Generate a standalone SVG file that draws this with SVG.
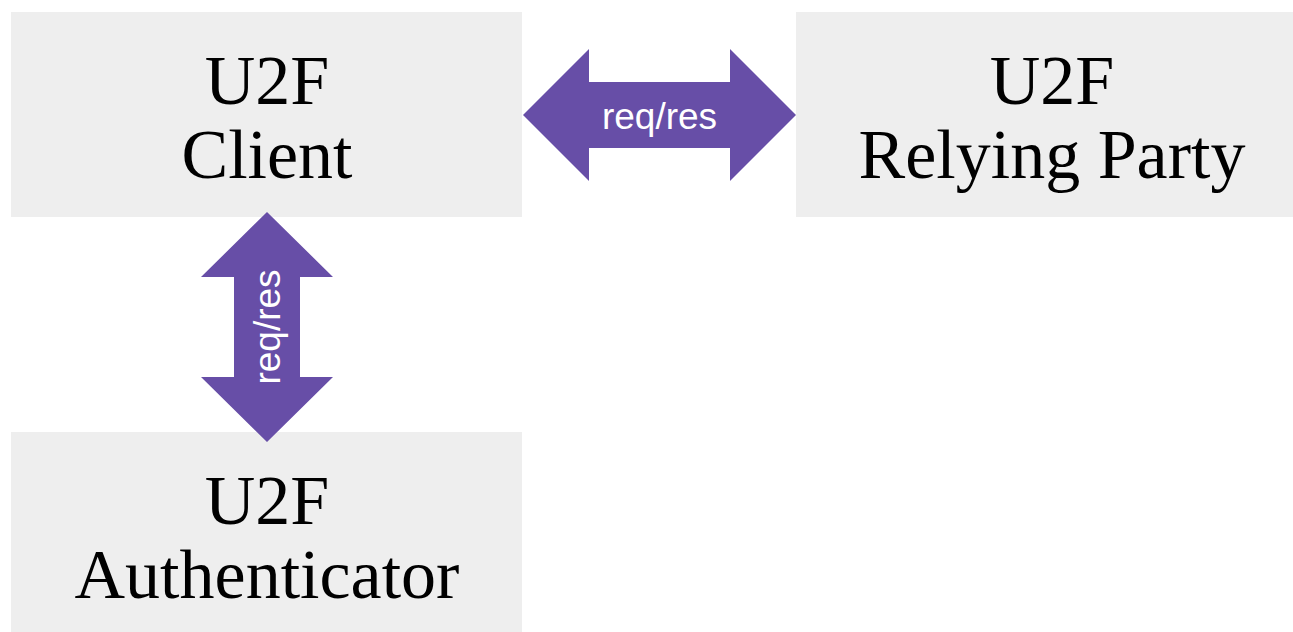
<svg xmlns="http://www.w3.org/2000/svg" width="1293" height="632" viewBox="0 0 1293 632">
  <style>
    .box { fill: #eeeeee; }
    .title { font-family: "Liberation Serif", "Times New Roman", serif; font-size: 70px; fill: #000000; text-anchor: middle; }
    .arrow { fill: #674ea7; }
    .label { font-family: "Liberation Sans", Arial, sans-serif; font-size: 37px; fill: #ffffff; text-anchor: middle; }
  </style>
  <rect width="1293" height="632" fill="#ffffff"/>

  <g id="client">
    <rect class="box" x="11" y="12" width="511" height="205"/>
    <text class="title" x="267" y="104">U2F</text>
    <text class="title" x="267" y="178">Client</text>
  </g>

  <g id="relying-party">
    <rect class="box" x="796" y="12" width="497" height="205"/>
    <text class="title" x="1052" y="104">U2F</text>
    <text class="title" x="1052" y="178">Relying Party</text>
  </g>

  <g id="authenticator">
    <rect class="box" x="11" y="432" width="511" height="200"/>
    <text class="title" x="267" y="524">U2F</text>
    <text class="title" x="267" y="598">Authenticator</text>
  </g>

  <g id="connectors">
    <!-- client <-> relying party -->
    <path class="arrow" d="M523,115 L589,49 L589,82 L730,82 L730,49 L796,115 L730,181 L730,148 L589,148 L589,181 Z"/>
    <text class="label" x="659.5" y="129">req/res</text>
    <!-- client <-> authenticator -->
    <path class="arrow" d="M267,212 L333,277 L300,277 L300,377 L333,377 L267,442 L201,377 L234,377 L234,277 L201,277 Z"/>
    <text class="label" transform="translate(280,327) rotate(-90)">req/res</text>
  </g>
</svg>
